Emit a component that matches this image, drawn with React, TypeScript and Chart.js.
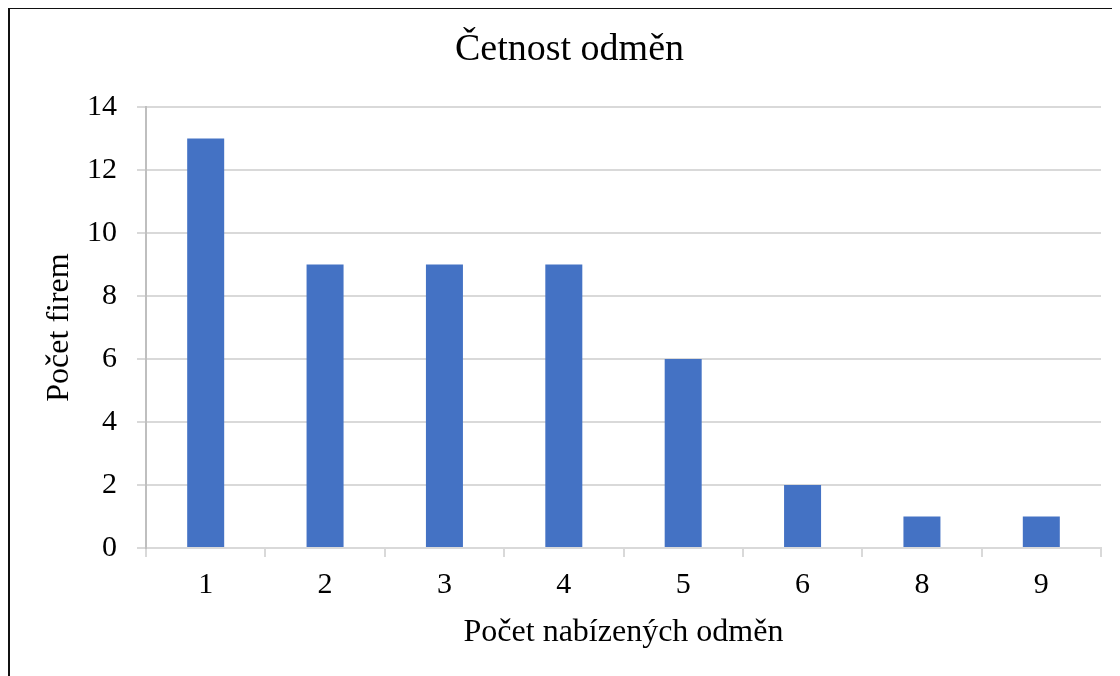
import React, { useEffect, useRef } from "react";
import { Chart, registerables } from "chart.js";

Chart.register(...registerables);

const categories = ["1", "2", "3", "4", "5", "6", "8", "9"];
const firmCounts = [13, 9, 9, 9, 6, 2, 1, 1];
const yTicks = [0, 2, 4, 6, 8, 10, 12, 14];

const FONT = '"Liberation Serif", "Times New Roman", serif';

export default function App() {
  const ref = useRef<HTMLCanvasElement | null>(null);

  useEffect(() => {
    document.documentElement.style.overflow = "hidden";
    document.body.style.overflow = "hidden";
    const canvas = ref.current;
    if (!canvas) return;
    const chart = new Chart(canvas, {
      type: "bar",
      data: {
        labels: categories,
        datasets: [
          {
            label: "Počet firem",
            data: firmCounts,
            backgroundColor: "#4472C4",
            borderWidth: 0,
            barPercentage: 0.31,
            categoryPercentage: 1,
            yAxisID: "y",
          },
        ],
      },
      options: {
        responsive: false,
        animation: false,
        layout: { padding: 0 },
        plugins: {
          legend: { display: false },
          tooltip: { enabled: false },
          title: {
            display: true,
            text: "Četnost odměn",
            color: "#000",
            font: { family: FONT, size: 38, weight: "normal" },
            padding: { top: 18.2, bottom: 34.2 },
          },
        },
        scales: {
          x: {
            afterFit: (s: any) => {
              s.height = 128;
            },
            grid: {
              display: true,
              drawOnChartArea: false,
              drawTicks: true,
              tickLength: 9,
              color: "#d9d9d9",
              lineWidth: 2,
            },
            border: { display: true, color: "#d9d9d9", width: 2 },
            ticks: {
              color: "#000",
              font: { family: FONT, size: 30 },
              padding: 10.5,
              maxRotation: 0,
            },
            title: {
              display: true,
              text: "Počet nabízených odměn",
              color: "#000",
              font: { family: FONT, size: 32 },
              padding: { top: 0, bottom: 24.6 },
            },
          },
          y: {
            min: 0,
            max: 14,
            afterFit: (s: any) => {
              s.width = 136;
            },
            afterBuildTicks: (axis: any) => {
              axis.ticks = yTicks.map((v) => ({ value: v }));
            },
            grid: {
              color: "#d9d9d9",
              lineWidth: 2,
              drawTicks: true,
              tickLength: 9,
            },
            border: { display: true, color: "#bfbfbf", width: 2 },
            ticks: {
              color: "#000",
              font: { family: FONT, size: 30 },
              padding: 20,
            },
            title: {
              display: true,
              text: "Počet firem",
              color: "#000",
              font: { family: FONT, size: 32 },
              padding: { top: 30.8, bottom: 0 },
            },
          },
          yRightSpace: {
            position: "right",
            display: true,
            afterFit: (s: any) => {
              s.width = 28;
            },
            grid: { display: false, drawTicks: false },
            border: { display: false },
            ticks: { display: false },
          },
        },
      },
    });
    return () => chart.destroy();
  }, []);

  return (
    <div
      style={{
        width: 1130,
        height: 700,
        border: "2px solid #111",
        marginTop: -1,
        background: "#fff",
      }}
    >
      <canvas
        ref={ref}
        width={1119}
        height={667}
        style={{ display: "block", width: 1119, height: 667 }}
      />
    </div>
  );
}
